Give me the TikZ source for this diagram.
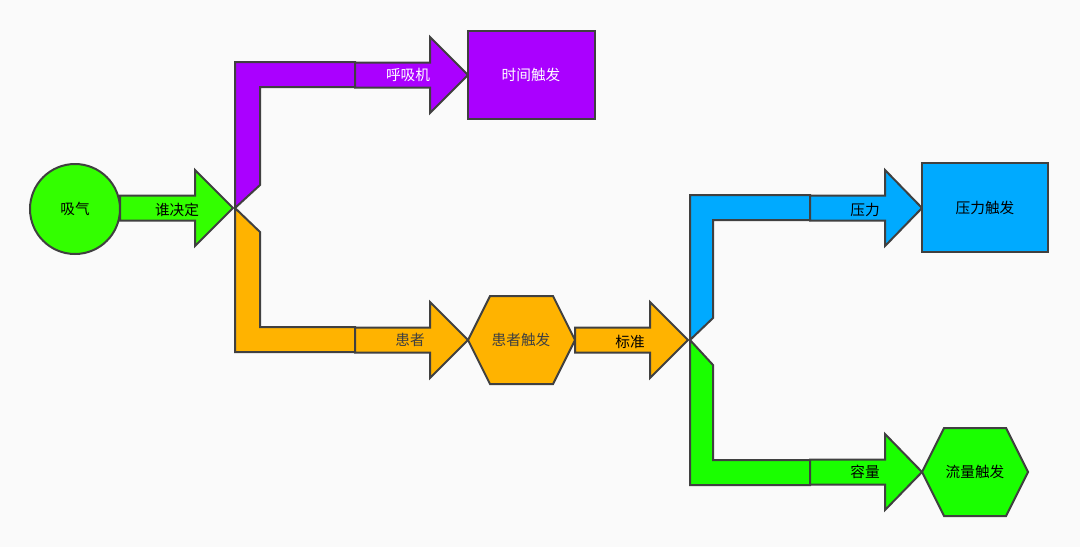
\documentclass[tikz,border=0pt]{standalone}
\usepackage{fontspec}
\setmainfont{Noto Sans CJK SC}
\usetikzlibrary{positioning}
\definecolor{bg}{HTML}{FAFAFA}
\definecolor{edge}{HTML}{404040}
\definecolor{purp}{HTML}{AA00FF}
\definecolor{lime}{HTML}{33FF00}
\definecolor{amber}{HTML}{FFB300}
\definecolor{sky}{HTML}{00AAFF}
\definecolor{grn}{HTML}{1AFF00}
% arrow: start x, head x, tip x, centre y, colour
\newcommand\flowarrow[5]{%
  \draw[part, fill=#5] (#1,#4-12.5) -- (#2,#4-12.5) -- (#2,#4-38) -- (#3,#4)
    -- (#2,#4+38) -- (#2,#4+12.5) -- (#1,#4+12.5) -- cycle;}
\newcommand\hexa[5]{%
  \draw[part, fill=#5] (#1,#4) -- (#1+22,#3) -- (#2-22,#3) -- (#2,#4)
    -- (#2-22,2*#4-#3) -- (#1+22,2*#4-#3) -- cycle;}
\begin{document}
\begin{tikzpicture}[x=0.75pt, y=-0.75pt,
    part/.style={draw=edge, line width=1.5pt, line join=miter},
    lbl/.style={font=\fontsize{11}{13}\selectfont, inner sep=1pt}]
  \fill[bg] (0,0) rectangle (1080,547);
  \useasboundingbox (0,0) rectangle (1080,547);
  % start
  \draw[part, fill=lime] (75,209) circle [radius=45];
  \node[lbl] (breath) at (75,209) {吸气};
  \flowarrow{120}{195}{233}{208}{lime}
  \node[lbl] (who) at (177,210) {谁决定};
  % ventilator branch
  \draw[part, fill=purp] (235,208) -- (235,62) -- (355,62) -- (355,87) -- (260,87) -- (260,185) -- cycle;
  \flowarrow{355}{430}{468}{75}{purp}
  \node[lbl, text=white] (vent) at (408,75) {呼吸机};
  \draw[part, fill=purp] (468,31) rectangle (595,119);
  \node[lbl, text=white] (time) at (531,75) {时间触发};
  % patient branch
  \draw[part, fill=amber] (235,208) -- (260,232) -- (260,327) -- (355,327) -- (355,352) -- (235,352) -- cycle;
  \flowarrow{355}{430}{468}{340}{amber}
  \node[lbl, text=edge] (pat) at (410,340) {患者};
  \hexa{468}{575}{296}{340}{amber}
  \node[lbl, text=edge] (patt) at (521,340) {患者触发};
  \flowarrow{575}{650}{688}{340}{amber}
  \node[lbl] (std) at (630,342) {标准};
  % pressure branch
  \draw[part, fill=sky] (690,340) -- (690,195) -- (810,195) -- (810,220) -- (713,220) -- (713,318) -- cycle;
  \flowarrow{810}{885}{922}{208}{sky}
  \node[lbl] (pres) at (865,210) {压力};
  \draw[part, fill=sky] (922,163) rectangle (1048,252);
  \node[lbl] (prest) at (985,208) {压力触发};
  % volume branch
  \draw[part, fill=grn] (690,340) -- (713,365) -- (713,460) -- (810,460) -- (810,485) -- (690,485) -- cycle;
  \flowarrow{810}{885}{922}{472}{grn}
  \node[lbl] (vol) at (865,472) {容量};
  \hexa{922}{1028}{428}{472}{grn}
  \node[lbl] (volt) at (975,472) {流量触发};
\end{tikzpicture}
\end{document}
